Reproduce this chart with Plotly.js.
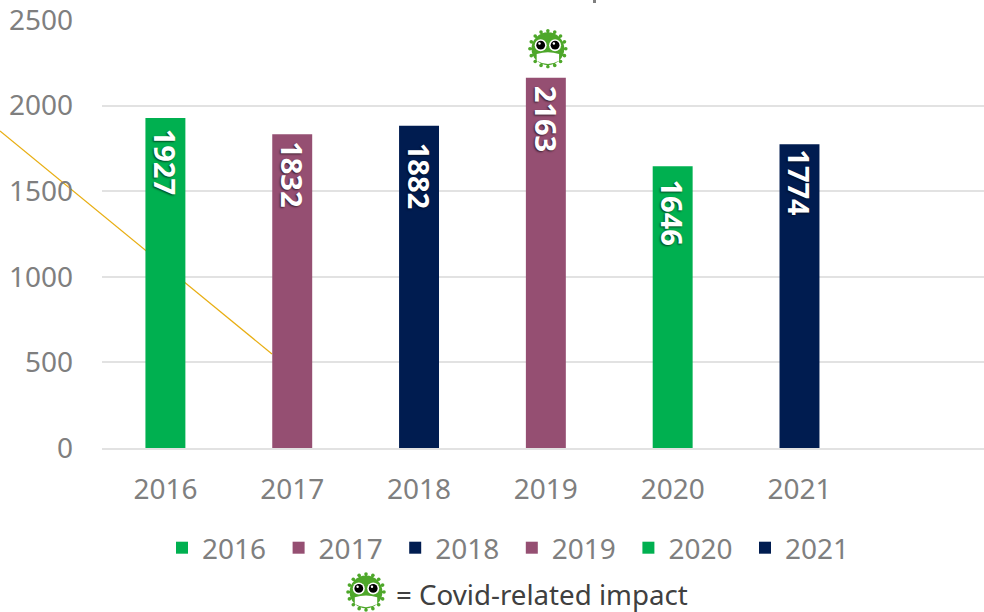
<!DOCTYPE html>
<html><head><meta charset="utf-8">
<script src="https://cdn.plot.ly/plotly-3.0.1.min.js"></script>
<style>html,body{margin:0;padding:0;background:#fff;overflow:hidden}</style>
</head><body><div id="chart" style="width:984px;height:612px"></div>
<script>
const years = ['2016','2017','2018','2019','2020','2021'];
const positions = [0,1,2,3,4,5];
const values = [1927,1832,1882,2163,1646,1774];
const colors = ['#00B050','#954F72','#001C50','#954F72','#00B050','#001C50'];
const labelGaps = [9,5,15,6,11,3];
const covidYearIndex = 3;
const noteText = '= Covid-related impact';
const strayLinePx = [[0,131],[272,354]];
const croppedTitleMarkPx = [593,0,596,3];

const W=984,H=612,L=102,R=0,T=20,B=164;
const pw=W-L-R, ph=H-T-B;
const px=x=>(x-L)/pw, py=y=>1-(y-T)/ph;

function spikes(){
  let s='';
  for(let i=0;i<16;i++){
    const a=i*Math.PI/8;
    const x1=50+38*Math.cos(a),y1=50+38*Math.sin(a),x2=50+45*Math.cos(a),y2=50+45*Math.sin(a);
    s+=`<line x1='${x1.toFixed(1)}' y1='${y1.toFixed(1)}' x2='${x2.toFixed(1)}' y2='${y2.toFixed(1)}' stroke='#4EA72A' stroke-width='5'/>`;
    s+=`<circle cx='${x2.toFixed(1)}' cy='${y2.toFixed(1)}' r='4.5' fill='#4EA72A'/>`;
  }
  return s;
}
const icon="data:image/svg+xml;utf8,"+encodeURIComponent(
`<svg xmlns='http://www.w3.org/2000/svg' viewBox='0 0 100 100'>${spikes()}
<circle cx='50' cy='50' r='41' fill='#4EA72A'/>
<circle cx='32' cy='41' r='15' fill='#fff'/><circle cx='68' cy='41' r='15' fill='#fff'/>
<circle cx='32' cy='41' r='11' fill='#000'/><circle cx='68' cy='41' r='11' fill='#000'/>
<circle cx='29' cy='37' r='3' fill='#fff'/><circle cx='65' cy='37' r='3' fill='#fff'/>
<path d='M22 63 Q50 55 78 63 L78 80 Q50 96 22 80 Z' fill='#fff'/>
</svg>`);

const traces = years.map((y,i)=>({
  type:'bar', name:y, x:[positions[i]], y:[values[i]], width:0.315,
  marker:{color:colors[i],line:{width:0}}, hoverinfo:'skip'
}));

const barLabels = years.map((y,i)=>({
  xref:'x',yref:'y',x:positions[i],y:values[i],yanchor:'top',xanchor:'center',yshift:-labelGaps[i],
  showarrow:false,textangle:90,text:String(values[i]),
  font:{family:'Noto Sans',size:29,color:'#fff',weight:700,shadow:'1px 1px 2px rgba(0,0,0,0.6)'}
}));

const layout={
  width:W,height:H,margin:{l:L,r:R,t:T,b:B,pad:0},
  paper_bgcolor:'#fff',plot_bgcolor:'rgba(0,0,0,0)',
  font:{family:'Noto Sans',color:'#7F7F7F',size:28},
  barmode:'overlay',
  xaxis:{range:[-0.5,6.455],tickmode:'array',tickvals:positions,ticktext:years,
    showgrid:false,zeroline:false,showline:true,linecolor:'#E2E2E2',linewidth:2,ticks:'',
    tickfont:{size:28,color:'#7F7F7F'},ticklabelstandoff:15,fixedrange:true},
  yaxis:{range:[0,2500],tickvals:[0,500,1000,1500,2000,2500],showgrid:true,gridcolor:'#E2E2E2',gridwidth:2,
    zeroline:false,showline:false,ticks:'',tickfont:{size:28,color:'#7F7F7F'},ticklabelstandoff:28,
    ticklabeloverflow:'allow',fixedrange:true},
  legend:{orientation:'h',xref:'container',yref:'container',x:162/W,xanchor:'left',y:1-523/H,yanchor:'top',
    entrywidth:71.6,entrywidthmode:'pixels',itemwidth:30,traceorder:'normal',
    font:{size:28,color:'#7F7F7F'},bgcolor:'rgba(0,0,0,0)',itemclick:false,itemdoubleclick:false},
  shapes:[{type:'line',xref:'paper',yref:'paper',layer:'below',
    x0:px(strayLinePx[0][0]),y0:py(strayLinePx[0][1]),x1:px(strayLinePx[1][0]),y1:py(strayLinePx[1][1]),
    line:{color:'#E8AE12',width:1.2}},
    {type:'rect',xref:'paper',yref:'paper',layer:'above',
    x0:px(croppedTitleMarkPx[0]),y0:py(croppedTitleMarkPx[1]),x1:px(croppedTitleMarkPx[2]),y1:py(croppedTitleMarkPx[3]),
    line:{width:0},fillcolor:'#7F7F7F'}],
  images:[
    {source:icon,xref:'x',yref:'y',x:positions[covidYearIndex]+0.016,y:values[covidYearIndex]+52,sizex:0.315,sizey:234,
     xanchor:'center',yanchor:'bottom',sizing:'stretch',layer:'above'},
    {source:icon,xref:'paper',yref:'paper',x:px(366),y:py(592),sizex:40/pw,sizey:40/ph,
     xanchor:'center',yanchor:'middle',sizing:'stretch',layer:'above'}
  ],
  annotations:barLabels.concat([{xref:'paper',yref:'paper',x:px(394),y:py(594),xanchor:'left',yanchor:'middle',showarrow:false,
    text:noteText,font:{family:'Noto Sans',size:27.7,color:'#404040'}}])
};
Plotly.newPlot('chart',traces,layout,{displayModeBar:false,staticPlot:true});
</script></body></html>
